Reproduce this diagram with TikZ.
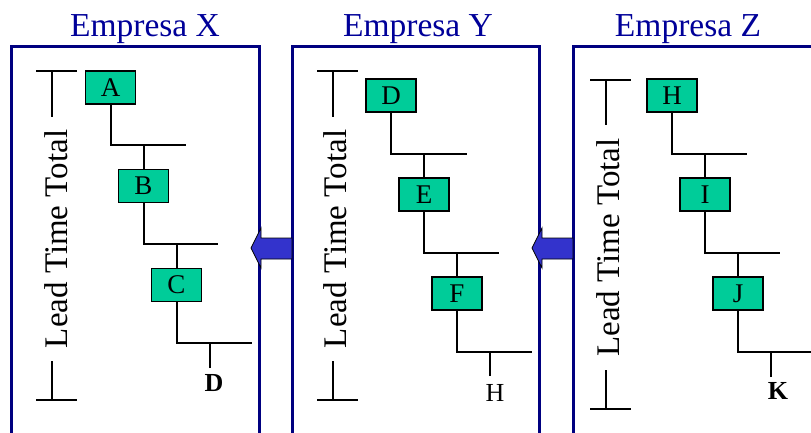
\documentclass[tikz,border=0pt]{standalone}
\usepackage{fontspec}
\setmainfont{Liberation Serif}
\usetikzlibrary{positioning}

\definecolor{panelblue}{RGB}{0,0,128}
\definecolor{titleblue}{RGB}{0,0,153}
\definecolor{stagegreen}{RGB}{0,204,153}
\definecolor{flowblue}{RGB}{51,51,204}

\tikzstyle{panel} = [
    draw=panelblue,
    line width=3pt
]
\tikzstyle{title} = [
    anchor=base,
    text=titleblue,
    font=\fontsize{33.5}{40}\selectfont
]
\tikzstyle{stage} = [
    rectangle,
    minimum width=50pt,
    minimum height=33pt,
    inner sep=0pt,
    fill=stagegreen,
    draw=black,
    line width=1.2pt,
    font=\fontsize{27}{31}\selectfont
]
\tikzstyle{leadtime} = [
    rotate=90,
    inner xsep=13pt,
    inner ysep=0pt,
    font=\fontsize{33}{40}\selectfont
]
\tikzstyle{output} = [
    inner sep=0pt,
    font=\fontsize{26}{30}\selectfont
]
\tikzstyle{link} = [line width=2pt]
\tikzstyle{flow} = [fill=flowblue, draw=black, line width=0.8pt]

\begin{document}
\begin{tikzpicture}[x=1pt, y=-1pt]

\useasboundingbox (0,0) rectangle (811,432);
\clip (0,0) rectangle (811,432);

% company frames (open at the bottom)
\draw [panel] (11,445) -- (11,46) -- (259,46) -- (259,445);
\draw [panel] (292,445) -- (292,46) -- (539,46) -- (539,445);
\draw [panel] (573,445) -- (573,46) -- (830,46);

\node (titleX) [title] at (145,36) {Empresa X};
\node (titleY) [title] at (418,36) {Empresa Y};
\node (titleZ) [title] at (688,36) {Empresa Z};

% Empresa X
\coordinate (topX) at (52,71);
\coordinate (botX) at (52,400);
\node (ltX) [leadtime] at (56,239) {Lead Time Total};
\draw [link] ([xshift=-16pt]topX) -- ([xshift=25pt]topX);
\draw [link] ([xshift=-16pt]botX) -- ([xshift=25pt]botX);
\draw [link] (topX) -- (topX |- ltX.east);
\draw [link] (botX) -- (botX |- ltX.west);

\node (A) [stage] at (110.5,87.5) {A};
\node (B) [stage] at (143.5,186) {B};
\node (C) [stage] at (176.5,285) {C};
\coordinate (barA) at (186,145);
\coordinate (barB) at (218,244);
\coordinate (barC) at (252,343);
\coordinate (tailX) at (210,368);
\node (outX) [output, font=\fontsize{26}{30}\selectfont\bfseries] at (214,383) {D};

\draw [link] (A.south) |- (barA);
\draw [link] (B.north) -- (B.north |- barA);
\draw [link] (B.south) |- (barB);
\draw [link] (C.north) -- (C.north |- barB);
\draw [link] (C.south) |- (barC);
\draw [link] (tailX) -- (tailX |- barC);

% Empresa Y
\coordinate (topY) at (333,71);
\coordinate (botY) at (333,400);
\node (ltY) [leadtime] at (335.5,239) {Lead Time Total};
\draw [link] ([xshift=-16pt]topY) -- ([xshift=25pt]topY);
\draw [link] ([xshift=-16pt]botY) -- ([xshift=25pt]botY);
\draw [link] (topY) -- (topY |- ltY.east);
\draw [link] (botY) -- (botY |- ltY.west);

\node (D) [stage] at (391,95.5) {D};
\node (E) [stage] at (424,194.5) {E};
\node (F) [stage] at (457,293.5) {F};
\coordinate (barD) at (467,154);
\coordinate (barE) at (499,253);
\coordinate (barF) at (532,352);
\coordinate (tailY) at (490,376);
\node (outY) [output] at (495,393) {H};

\draw [link] (D.south) |- (barD);
\draw [link] (E.north) -- (E.north |- barD);
\draw [link] (E.south) |- (barE);
\draw [link] (F.north) -- (F.north |- barE);
\draw [link] (F.south) |- (barF);
\draw [link] (tailY) -- (tailY |- barF);

% Empresa Z
\coordinate (topZ) at (606,80);
\coordinate (botZ) at (606,409);
\node (ltZ) [leadtime] at (608.5,247.5) {Lead Time Total};
\draw [link] ([xshift=-16pt]topZ) -- ([xshift=25pt]topZ);
\draw [link] ([xshift=-16pt]botZ) -- ([xshift=25pt]botZ);
\draw [link] (topZ) -- (topZ |- ltZ.east);
\draw [link] (botZ) -- (botZ |- ltZ.west);

\node (H) [stage] at (672,95.5) {H};
\node (I) [stage] at (705,194.5) {I};
\node (J) [stage] at (738,293.5) {J};
\coordinate (barH) at (747,154);
\coordinate (barI) at (780,253);
\coordinate (barJ) at (820,352);
\coordinate (tailZ) at (771,377);
\node (outZ) [output, font=\fontsize{26}{30}\selectfont\bfseries] at (778,391) {K};

\draw [link] (H.south) |- (barH);
\draw [link] (I.north) -- (I.north |- barH);
\draw [link] (I.south) |- (barI);
\draw [link] (J.north) -- (J.north |- barI);
\draw [link] (J.south) |- (barJ);
\draw [link] (tailZ) -- (tailZ |- barJ);

% supply flow between companies
\draw [flow] (251,248) -- (261,228) -- (261,238) -- (292,238)
    -- (292,259) -- (261,259) -- (261,268) -- cycle;
\draw [flow] (532,248) -- (542,228) -- (542,238) -- (573,238)
    -- (573,259) -- (542,259) -- (542,268) -- cycle;

\end{tikzpicture}
\end{document}
